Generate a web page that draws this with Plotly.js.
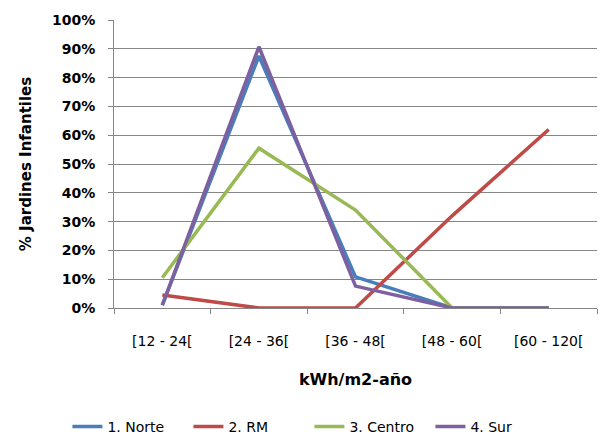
<!DOCTYPE html>
<html>
<head>
<meta charset="utf-8">
<script src="https://cdn.plot.ly/plotly-3.0.1.min.js"></script>
<style>html,body{margin:0;padding:0;background:#fff;}#chart{width:602px;height:440px;}</style>
</head>
<body>
<div id="chart"></div>
<script>
const categories = ['[12 - 24[', '[24 - 36[', '[36 - 48[', '[48 - 60[', '[60 - 120['];
const seriesNames = ['1. Norte', '2. RM', '3. Centro', '4. Sur'];
const norte = [0.01, 0.875, 0.108, 0.0, 0.0];
const rm = [0.045, 0.0, 0.0, 0.32, 0.62];
const centro = [0.105, 0.555, 0.34, 0.0, 0.0];
const sur = [0.01, 0.907, 0.076, 0.0, 0.0];
const yTickVals = [0, 0.1, 0.2, 0.3, 0.4, 0.5, 0.6, 0.7, 0.8, 0.9, 1.0];
const yTickText = ['0%', '10%', '20%', '30%', '40%', '50%', '60%', '70%', '80%', '90%', '100%'];

const colors = ['#4A7EBB', '#BE4B48', '#98B954', '#7D60A0'];
const allSeries = [norte, rm, centro, sur];
const FONT = '"DejaVu Sans", sans-serif';

const traces = allSeries.map((vals, i) => ({
  type: 'scatter',
  mode: 'lines',
  name: seriesNames[i],
  x: categories,
  y: vals,
  line: {color: colors[i], width: 3.5},
  hoverinfo: 'skip'
}));

const layout = {
  width: 602,
  height: 440,
  margin: {l: 114, r: 5, t: 20, b: 132},
  paper_bgcolor: '#fff',
  plot_bgcolor: '#fff',
  showlegend: true,
  font: {family: FONT, size: 13, color: '#000'},
  xaxis: {
    type: 'category',
    range: [-0.5, 4.5],
    tickson: 'boundaries',
    ticks: 'outside',
    ticklen: 5,
    tickcolor: '#868686',
    showgrid: false,
    showline: true,
    linecolor: '#868686',
    linewidth: 1,
    ticklabelstandoff: 20,
    automargin: false,
    tickfont: {family: FONT, size: 14, color: '#000'},
    title: {text: '<b>kWh/m2-año</b>', font: {family: FONT, size: 16, color: '#000'}, standoff: 26}
  },
  yaxis: {
    range: [0, 1.0],
    tickvals: yTickVals,
    ticktext: yTickText,
    ticks: 'outside',
    ticklen: 5,
    tickcolor: '#868686',
    showgrid: true,
    gridcolor: '#868686',
    gridwidth: 1,
    showline: true,
    linecolor: '#868686',
    linewidth: 1,
    zeroline: false,
    automargin: false,
    ticklabelstandoff: 10,
    tickfont: {family: FONT, size: 14, color: '#000', weight: 'bold'},
    title: {text: '<b>% Jardines Infantiles</b>', font: {family: FONT, size: 15, color: '#000'}, standoff: 16}
  },
  legend: {
    orientation: 'h',
    xref: 'container',
    x: 0.112,
    xanchor: 'left',
    yref: 'container',
    y: 0.03,
    yanchor: 'middle',
    font: {family: FONT, size: 14, color: '#000'},
    itemwidth: 30,
    entrywidth: 76,
    entrywidthmode: 'pixels',
    tracegroupgap: 0
  }
};

Plotly.newPlot('chart', traces, layout, {displayModeBar: false, staticPlot: true});
</script>
</body>
</html>
